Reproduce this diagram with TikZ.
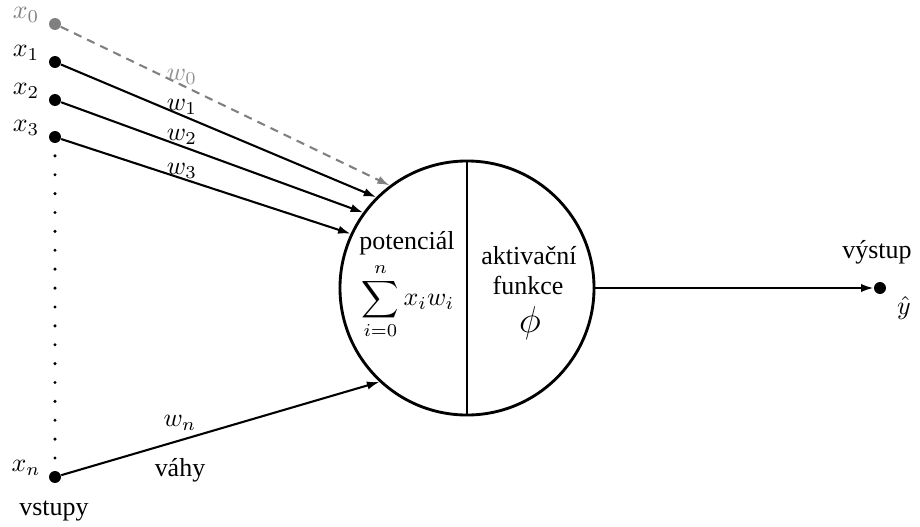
\documentclass[tikz,border=0pt]{standalone}
\usepackage[no-math]{fontspec}
\setmainfont{Liberation Serif}
\usetikzlibrary{arrows.meta}
\begin{document}
\begin{tikzpicture}[x=0.385pt,y=-0.385pt,
  dotnode/.style={circle,fill,inner sep=0pt,minimum size=4.6pt},
  link/.style={line width=0.8pt,-{Latex[length=4.8pt,width=3.2pt]}},
  biaslink/.style={link,gray,dashed,dash pattern=on 3.2pt off 2.4pt},
  txt/.style={inner sep=0pt},
  neuron/.style={circle,draw,line width=1.1pt,inner sep=0pt,minimum size=97.8pt}
]
\useasboundingbox (0,0) rectangle (920,526);

% neuron body split into two halves
\node[neuron] (c) at (467,288) {};
\draw[line width=0.8pt] (c.north) -- (c.south);

% inputs
\node[dotnode,gray] (x0) at (55,24) {};
\node[dotnode] (x1) at (55,62) {};
\node[dotnode] (x2) at (55,100) {};
\node[dotnode] (x3) at (55,137) {};
\node[dotnode] (xn) at (55,477) {};

\node[txt,gray] (lx0) at (26,15) {$x_0$};
\node[txt] (lx1) at (26,53) {$x_1$};
\node[txt] (lx2) at (26,91) {$x_2$};
\node[txt] (lx3) at (26,128) {$x_3$};
\node[txt] (lxn) at (26,468) {$x_n$};

% elided inputs
\draw[line width=1.3pt,line cap=round,dash pattern=on 0pt off 7.27pt] (x3.center) -- (xn.center);

% weighted connections
\draw[biaslink] (x0) -- (c.127);
\draw[link] (x1) -- (c.135.3);
\draw[link] (x2) -- (c.144.2);
\draw[link] (x3) -- (c.155.2);
\draw[link] (xn) -- (c.227.3);

\node[txt,gray!85] (w0) at (182,77) {$w_0$};
\node[txt] (w1) at (182,107) {$w_1$};
\node[txt] (w2) at (182,137) {$w_2$};
\node[txt] (w3) at (182,171) {$w_3$};
\node[txt] (wn) at (180,423) {$w_n$};

\node[txt] (vahy) at (180,470) {váhy};
\node[txt] (vstupy) at (54,511) {vstupy};

% neuron contents
\node[txt] (pot) at (407,243) {potenciál};
\node[txt] (sum) at (408,301) {$\displaystyle\sum_{i=0}^{n} x_i w_i$};
\node[txt] (akt) at (529,256) {aktivační};
\node[txt] (fun) at (528,285) {funkce};
\node[txt] (phi) at (530,323) {\Large$\phi$};

% output
\node[dotnode] (y) at (880,288) {};
\draw[link] (c.east) -- (y);
\node[txt] (vys) at (877,252) {výstup};
\node[txt] (yhat) at (904,308) {$\hat{y}$};
\end{tikzpicture}
\end{document}
